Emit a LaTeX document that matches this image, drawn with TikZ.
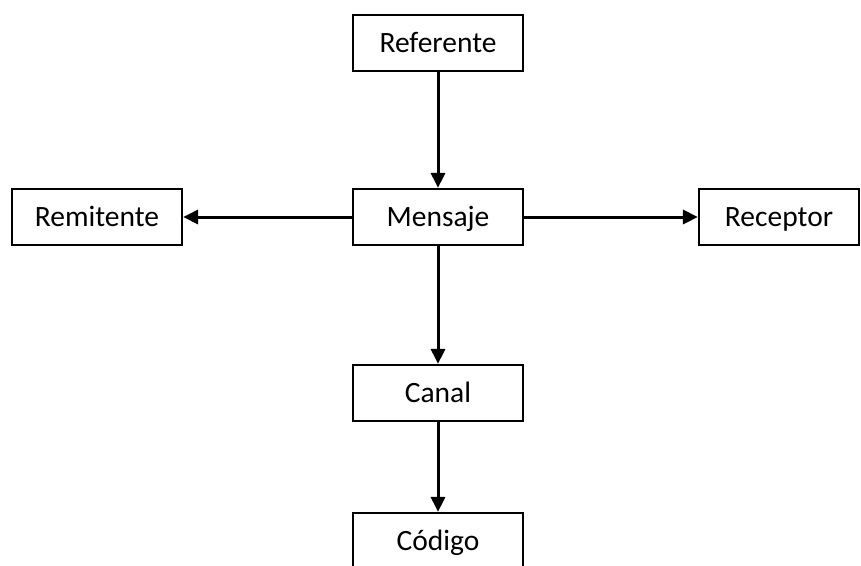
\documentclass[tikz,border=0pt]{standalone}
\usepackage{fontspec}
\setmainfont{Carlito}
\usetikzlibrary{arrows.meta}
\begin{document}
\begin{tikzpicture}[x=1pt,y=-1pt,
  box/.style={draw=black,line width=2.2pt,fill=white,minimum width=170pt,minimum height=56pt,inner sep=0pt,text height=24pt,text depth=5.6pt,font=\fontsize{29.5}{35}\selectfont},
  conn/.style={line width=3pt,-{Triangle[length=15pt,width=14pt]}}]
\useasboundingbox (0,0) rectangle (861,565);
\clip (0,0) rectangle (861,565);
\node[box] (ref) at (438,43) {Referente};
\node[box] (men) at (438,217) {Mensaje};
\node[box] (rem) at (97,217) {Remitente};
\node[box,minimum width=160pt] (rec) at (779,217) {Receptor};
\node[box] (can) at (438,393) {Canal};
\node[box] (cod) at (438,541) {Código};
\draw[conn] (ref) -- (men);
\draw[conn] (men) -- (rem);
\draw[conn] (men) -- (rec);
\draw[conn] (men) -- (can);
\draw[conn] (can) -- (cod);
\end{tikzpicture}
\end{document}
